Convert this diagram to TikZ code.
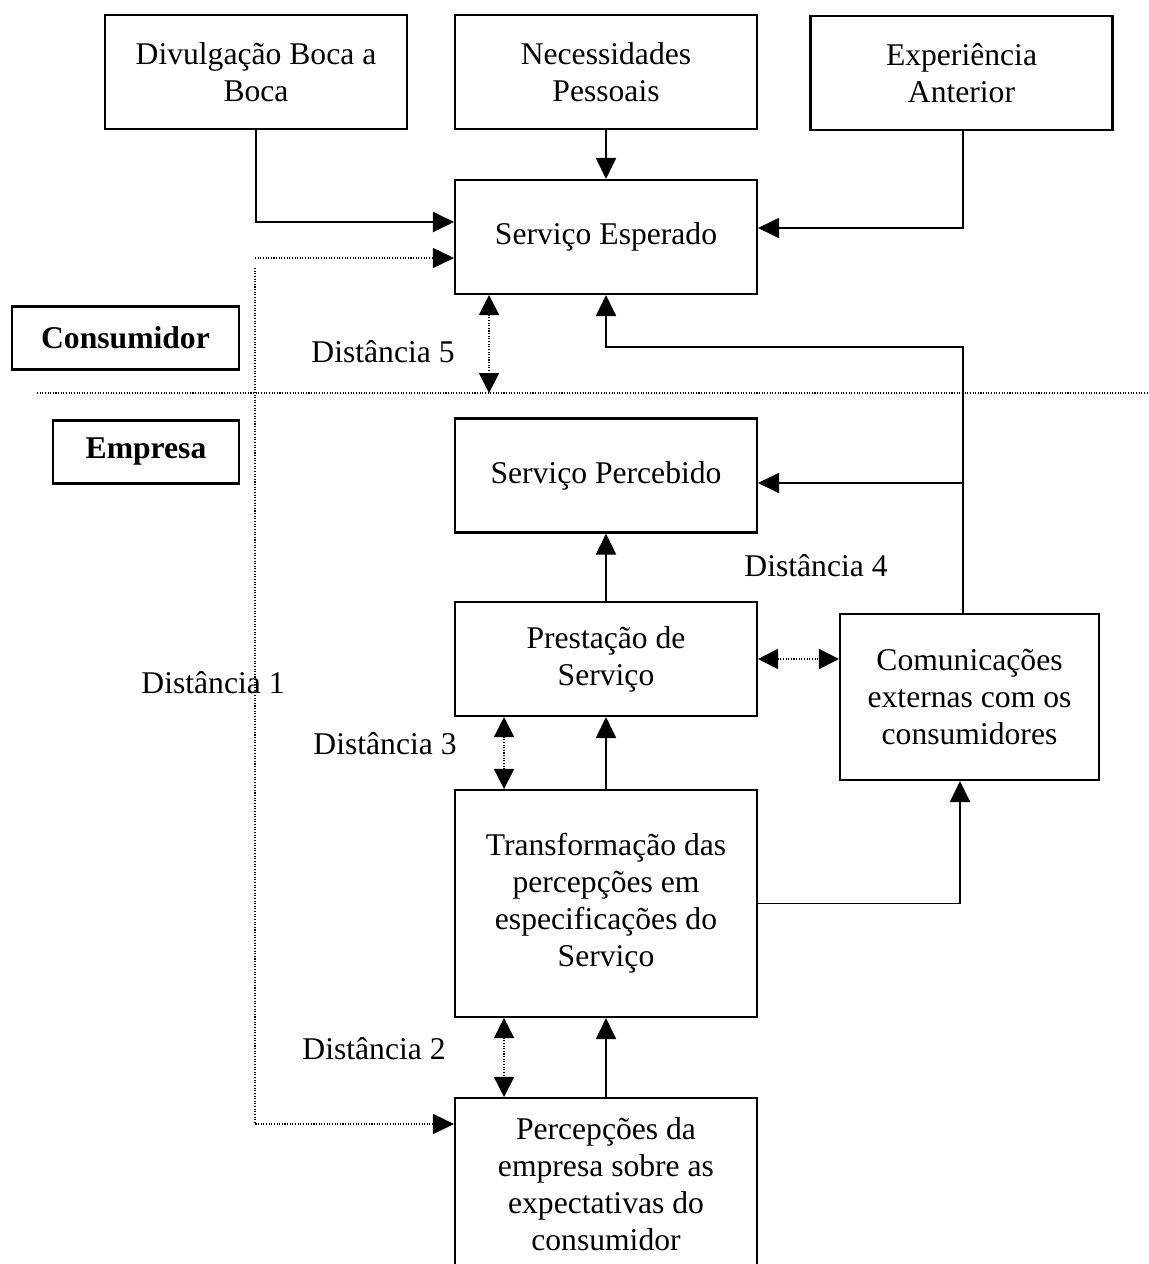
\documentclass[tikz,border=0pt]{standalone}
\usepackage{fontspec}
\setmainfont{Liberation Serif}
\usetikzlibrary{arrows.meta}

\begin{document}
\begin{tikzpicture}[
    x=0.02cm, y=-0.02cm,
    every node/.style={align=center, font=\fontsize{18}{21}\selectfont},
    box/.style={rectangle, draw, line width=1.2pt, minimum width=6.04cm, minimum height=2.28cm, inner sep=0pt},
    side/.style={rectangle, draw, line width=1.2pt, minimum height=1.26cm, inner sep=0pt, font=\fontsize{18}{21}\selectfont\bfseries},
    flow/.style={-{Triangle[length=0.42cm, width=0.4cm]}, line width=1.1pt},
    dots/.style={line width=0.9pt, dash pattern=on 0.6pt off 0.9pt},
    dotflow/.style={dots, -{Triangle[length=0.42cm, width=0.4cm]}},
    gap/.style={dots, {Triangle[length=0.4cm, width=0.4cm]}-{Triangle[length=0.4cm, width=0.4cm]}}
]
    \useasboundingbox (0,0) rectangle (1149,1264);

    % Consumer side
    \node[box] (boca) at (256,72) {Divulgação Boca a\\Boca};
    \node[box] (necessidades) at (606,72) {Necessidades\\Pessoais};
    \node[box] (experiencia) at (961.5,73) {Experiência\\Anterior};
    \node[box] (esperado) at (606,237) {Serviço Esperado};

    % Side labels
    \node[side, minimum width=4.54cm] (consumidor) at (125.5,338) {Consumidor};
    \node[side, minimum width=3.72cm] (empresa) at (146,452) {Empresa};

    % Company side
    \node[box] (percebido) at (606,475.5) {Serviço Percebido};
    \node[box] (prestacao) at (606,659) {Prestação de\\Serviço};
    \node[box, minimum width=5.18cm, minimum height=3.32cm] (comunicacoes) at (969.5,697) {Comunicações\\externas com os\\consumidores};
    \node[box, minimum height=4.54cm] (transformacao) at (606,903.5) {Transformação das\\percepções em\\especificações do\\Serviço};
    \node[box, minimum height=3.44cm] (percepcoes) at (606,1184) {Percepções da\\empresa sobre as\\expectativas do\\consumidor};

    % Gap labels
    \node (dist1) at (213,683) {Distância 1};
    \node (dist2) at (374,1049) {Distância 2};
    \node (dist3) at (385,744) {Distância 3};
    \node (dist4) at (816,566) {Distância 4};
    \node (dist5) at (383,352) {Distância 5};

    % Helper points
    \coordinate (divleft) at (37,393);
    \coordinate (divright) at (1149,393);
    \coordinate (d1start) at (255,258);
    \coordinate (d1top) at (255,268);
    \coordinate (d5top) at ([xshift=-2.34cm]esperado.south);
    \coordinate (turn) at (963,347);
    \coordinate (branch) at (963,483);

    % Dividing line
    \draw[dots] (divleft) -- (divright);

    % Expectations
    \draw[flow] (boca.south) |- ([yshift=0.3cm]esperado.west);
    \draw[flow] (necessidades) -- (esperado);
    \draw[flow] ([xshift=0.03cm]experiencia.south) |- ([yshift=0.18cm]esperado.east);

    % Communications
    \draw[flow] ([xshift=-0.13cm]comunicacoes.north) |- (turn) -| (esperado.south);
    \draw[flow] (branch) -- (branch -| percebido.east);
    \draw[flow] (transformacao.east) -| ([xshift=-0.19cm]comunicacoes.south);

    % Delivery chain
    \draw[flow] (prestacao) -- (percebido);
    \draw[flow] (transformacao) -- (prestacao);
    \draw[flow] (percepcoes) -- (transformacao);

    % Gaps
    \draw[dotflow] (d1start) -- (d1start -| esperado.west);
    \draw[dotflow] (d1top) |- ([yshift=1.2cm]percepcoes.west);
    \draw[gap] (d5top) -- (d5top |- divleft);
    \draw[gap] ([xshift=-2.04cm]prestacao.south) -- ([xshift=-2.04cm]transformacao.north);
    \draw[gap] ([xshift=-2.04cm]transformacao.south) -- ([xshift=-2.04cm]percepcoes.north);
    \draw[gap] (prestacao.east) -- (prestacao.east -| comunicacoes.west);
\end{tikzpicture}
\end{document}
